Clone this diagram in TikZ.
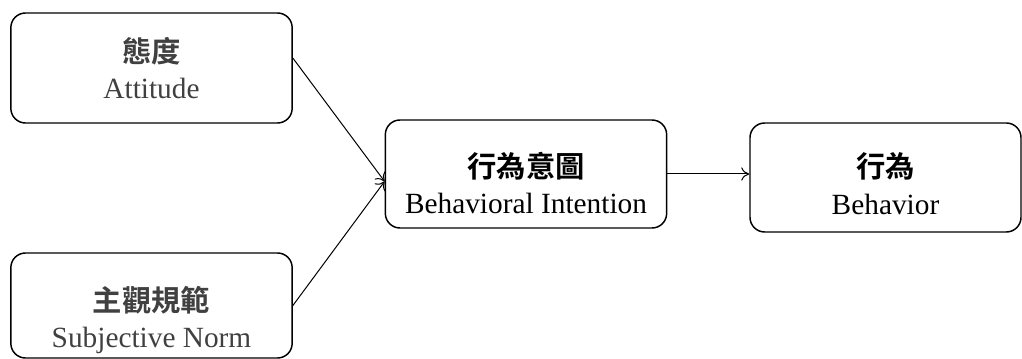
\documentclass[tikz,border=0pt]{standalone}
\usepackage{fontspec}
\setmainfont{Liberation Serif}
\newfontfamily\cjk{Noto Sans CJK TC}[BoldFont={* Bold}]
\usetikzlibrary{arrows.meta}
\definecolor{softink}{HTML}{404040}
\begin{document}
\begin{tikzpicture}[x=0.75pt,y=-0.75pt,
  conceptbox/.style={draw=black, line width=1.1pt, rounded corners=11pt,
    inner sep=0pt, minimum width=#1},
  conceptbox/.default=211pt,
  caption/.style={inner sep=0pt, align=center, font=\fontsize{22}{27.5}\selectfont},
  link/.style={line width=0.75pt, -{To[length=6pt,width=10pt]}}]
  \useasboundingbox (0,0) rectangle (1022,359);
  % rounded boxes
  \node[conceptbox, minimum height=82.5pt] (att) at (151.5,68) {};
  \node[conceptbox, minimum height=78.75pt] (norm) at (151.5,305.5) {};
  \node[conceptbox, minimum height=81pt] (bi) at (526,174) {};
  \node[conceptbox=203.25pt, minimum height=81.75pt] (beh) at (885.5,177.5) {};
  % two-line captions: Chinese title over English name
  \node[caption, text=softink] (attT) at (151.5,68) {{\cjk\bfseries 態度}\\Attitude};
  \node[caption, text=softink] (normT) at (151.5,320) {{\cjk\bfseries 主觀規範}\\Subjective Norm};
  \node[caption] (biT) at (526,183) {{\cjk\bfseries 行為意圖}\\Behavioral Intention};
  \node[caption] (behT) at (885.5,184) {{\cjk\bfseries 行為}\\Behavior};
  % connectors
  \draw[link] (att.4.5) -- (bi.183);
  \draw[link] (norm.east) -- (bi.183);
  \draw[link] (bi.east) -- (beh.west |- bi.east);
\end{tikzpicture}
\end{document}
